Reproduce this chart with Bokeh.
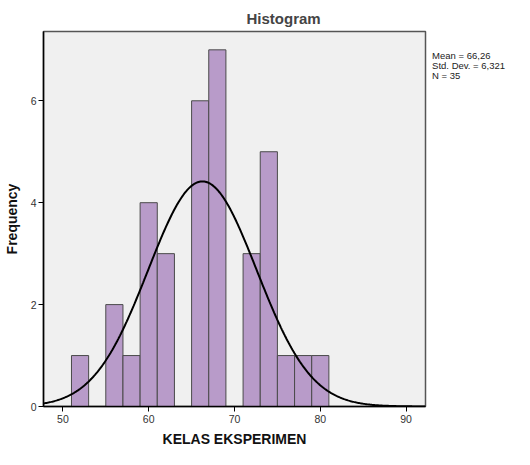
import numpy as np
from bokeh.plotting import figure
from bokeh.layouts import row
from bokeh.models import FixedTicker, Range1d
from bokeh.core.properties import value
from bokeh.embed import file_html
from bokeh.resources import INLINE

# Data
bin_left = [51, 55, 57, 59, 61, 65, 67, 71, 73, 75, 77, 79]
bin_right = [53, 57, 59, 61, 63, 67, 69, 73, 75, 77, 79, 81]
counts = [1, 2, 1, 4, 3, 6, 7, 3, 5, 1, 1, 1]
mean = 66.26
std = 6.321
n = 35
bin_width = 2
x_ticks = [50, 60, 70, 80, 90]
y_ticks = [0, 2, 4, 6]
stats_lines = ["Mean = 66,26", "Std. Dev. = 6,321", "N = 35"]

FONT = "Liberation Sans"

p = figure(width=430, height=449, output_backend="svg", toolbar_location=None,
           x_range=Range1d(47.74, 92.26), y_range=Range1d(0, 7.36),
           min_border_left=43, min_border_right=5, min_border_top=31, min_border_bottom=41)
p.background_fill_color = "#F0F0F0"
p.border_fill_color = "white"
p.outline_line_color = "#555555"
p.outline_line_width = 1.5
p.xgrid.visible = False
p.ygrid.visible = False

p.quad(left=bin_left, right=bin_right, bottom=0, top=counts,
       fill_color="#B89BC9", line_color="#4a4a4a", line_width=1)

xs = np.linspace(47.74, 92.26, 400)
ys = n * bin_width / (std * np.sqrt(2 * np.pi)) * np.exp(-0.5 * ((xs - mean) / std) ** 2)
p.line(xs, ys, line_color="black", line_width=2)

for ax in (p.xaxis[0], p.yaxis[0]):
    ax.axis_line_color = "black"
    ax.axis_line_width = 1.5
    ax.major_tick_line_color = "black"
    ax.major_tick_out = 5
    ax.major_tick_in = 0
    ax.minor_tick_line_color = None
    ax.major_label_text_font = FONT
    ax.major_label_text_font_size = "10.5px"
    ax.major_label_text_color = "#333333"
    ax.axis_label_text_font = FONT
    ax.axis_label_text_font_style = "bold"
    ax.axis_label_text_font_size = "14px"
    ax.axis_label_text_color = "#111111"

p.xaxis.ticker = FixedTicker(ticks=x_ticks)
p.yaxis.ticker = FixedTicker(ticks=y_ticks)
p.xaxis.axis_label = "KELAS EKSPERIMEN"
p.yaxis.axis_label = "Frequency"
p.xaxis.major_label_standoff = 3
p.yaxis.major_label_standoff = 2
p.xaxis.axis_label_standoff = 5
p.yaxis.axis_label_standoff = 8

p.title.text = "Histogram"
p.title.align = "left"
p.title.offset = 203
p.title.text_font = FONT
p.title.text_font_style = "bold"
p.title.text_font_size = "15px"
p.title.standoff = 9

# side panel with the summary statistics; its frame is aligned with the main frame,
# so its y range is expressed in pixels from the top of the page area (31 .. 406.5)
s = figure(width=84, height=449, output_backend="svg", toolbar_location=None,
           x_range=Range1d(0, 84), y_range=Range1d(406.5, 31),
           x_axis_location=None, y_axis_location=None,
           min_border_left=0, min_border_right=0, min_border_top=0, min_border_bottom=0)
s.outline_line_color = None
s.xgrid.visible = False
s.ygrid.visible = False
s.background_fill_color = "white"
s.border_fill_color = "white"
s.text(x=[1.6] * len(stats_lines), y=[55 + 9.8 * i for i in range(len(stats_lines))],
       text=stats_lines, text_baseline="middle", text_align="left",
       text_font=value(FONT), text_font_size="9.5px", text_color="#222222")

layout = row(p, s, spacing=0)
open("out.html", "w").write(file_html(layout, INLINE))
